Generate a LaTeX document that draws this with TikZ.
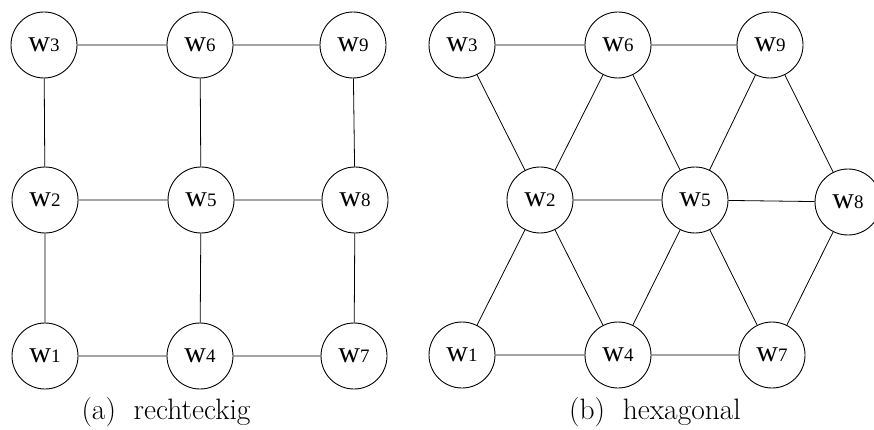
\documentclass[tikz,border=0pt]{standalone}
\usepackage{fontspec}
\newfontfamily\wfont{Liberation Serif}
\tikzset{
  wn/.style={circle, draw, line width=0.9pt, minimum size=66pt, inner sep=0pt, font=\wfont},
  edge/.style={line width=0.8pt},
  captext/.style={font=\fontsize{29.5}{32}\selectfont}
}
\newcommand{\wl}[1]{{\fontsize{30}{31}\selectfont w}{\fontsize{19}{20}\selectfont #1}}
\begin{document}
\begin{tikzpicture}[x=1pt,y=-1pt]
\useasboundingbox (0,0) rectangle (874,430);
\clip (0,0) rectangle (874,430);
% left
\node[wn] (a3) at (44,45) {\wl{3}};
\node[wn] (a6) at (200,45) {\wl{6}};
\node[wn] (a9) at (353,45) {\wl{9}};
\node[wn] (a2) at (45,200) {\wl{2}};
\node[wn] (a5) at (201,200) {\wl{5}};
\node[wn] (a8) at (355,200) {\wl{8}};
\node[wn] (a1) at (45,356) {\wl{1}};
\node[wn] (a4) at (200,356) {\wl{4}};
\node[wn] (a7) at (354,356) {\wl{7}};
\draw[edge] (a3)--(a6) (a6)--(a9) (a2)--(a5) (a5)--(a8) (a1)--(a4) (a4)--(a7)
  (a3)--(a2) (a2)--(a1) (a6)--(a5) (a5)--(a4) (a9)--(a8) (a8)--(a7);
\node[captext] (ca) at (166,412) {(a)\hspace{0.6em}rechteckig};
% right
\node[wn] (b3) at (462,45) {\wl{3}};
\node[wn] (b6) at (618,45) {\wl{6}};
\node[wn] (b9) at (770,45) {\wl{9}};
\node[wn] (b2) at (540,200) {\wl{2}};
\node[wn] (b5) at (695,200) {\wl{5}};
\node[wn] (b8) at (848,202) {\wl{8}};
\node[wn] (b1) at (462,355) {\wl{1}};
\node[wn] (b4) at (618,355) {\wl{4}};
\node[wn] (b7) at (772,355) {\wl{7}};
\draw[edge] (b3)--(b6) (b6)--(b9) (b2)--(b5) (b5)--(b8) (b1)--(b4) (b4)--(b7)
  (b3)--(b2) (b6)--(b2) (b6)--(b5) (b9)--(b5) (b9)--(b8)
  (b1)--(b2) (b4)--(b2) (b4)--(b5) (b7)--(b5) (b7)--(b8);
\node[captext] (cb) at (655,412) {(b)\hspace{0.6em}hexagonal};
\end{tikzpicture}
\end{document}
